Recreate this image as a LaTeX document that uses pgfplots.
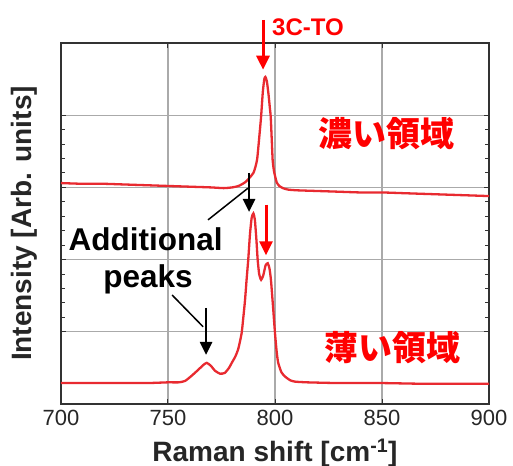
\documentclass[border=0pt]{standalone}
\usepackage{fontspec}
\setmainfont{Liberation Sans}
\newfontfamily\cjk{Noto Sans CJK JP}
\usepackage{pgfplots}
\pgfplotsset{compat=1.18}
\usetikzlibrary{arrows.meta}
\definecolor{spec}{RGB}{232,42,48}
\definecolor{frame}{RGB}{50,50,50}
\definecolor{gridc}{RGB}{170,170,170}
\begin{document}
\begin{tikzpicture}
\useasboundingbox (-61bp,-62bp) rectangle (452bp,404bp);
\begin{axis}[
  scale only axis, width=428bp, height=361bp,
  xmin=700, xmax=900, ymin=0, ymax=5,
  xtick={700,750,800,850,900}, ytick={1,2,3,4}, yticklabels={},
  minor y tick num=4,
  grid=major, major grid style={draw=gridc, line width=1.3bp},
  axis line style={draw=frame, line width=2.3bp},
  tick style={draw=frame, line width=1bp},
  tick align=inside, major tick length=5bp, minor tick length=4bp,
  /pgf/number format/assume math mode=true,
  xticklabel style={font=\fontsize{22bp}{26bp}\selectfont, text=black!85, yshift=-3bp},
  xlabel={\textbf{Raman shift [cm\textsuperscript{-1}]}},
  ylabel={\textbf{Intensity [Arb. units]}},
  xlabel style={at={([yshift=-49bp]rel axis cs:0.5,0)}, anchor=center, font=\fontsize{28bp}{32bp}\selectfont, text=black!85},
  ylabel style={at={([xshift=-37bp]rel axis cs:0,0.5)}, anchor=center, font=\fontsize{28bp}{32bp}\selectfont, text=black!85},
  clip=false,
]
\addplot[spec, line width=2.3bp, smooth, tension=0.35] coordinates {
(700,3.06) (710,3.05) (720,3.05) (730,3.04) (740,3.03) (750,3.02) (760,3.01) (770,3.00) (776,2.99) (780,3.00) (783,3.02) (786,3.07) (788,3.13) (789.9,3.20) (791,3.30) (791.7,3.40) (792.6,3.68) (793.5,3.98) (794.3,4.32) (795.0,4.50) (795.5,4.53) (796.2,4.47) (797.0,4.28) (797.6,4.10) (798.0,3.98) (798.5,3.65) (798.9,3.38) (799.3,3.27) (799.7,3.20) (800.8,3.07) (802,3.02) (803.7,2.99) (806,2.97) (810,2.96) (820,2.95) (830,2.94) (840,2.93) (850,2.93) (860,2.92) (870,2.91) (880,2.90) (890,2.89) (900,2.88)
};
\addplot[spec, line width=2.3bp, smooth, tension=0.35] coordinates {
(700,0.29) (720,0.29) (740,0.29) (750,0.30) (755,0.30) (758,0.32) (761,0.39) (764,0.47) (766.5,0.54) (768.1,0.57) (770,0.53) (772,0.46) (774.3,0.42) (776.5,0.43) (778.5,0.50) (779.8,0.57) (781.5,0.66) (782.9,0.77) (784.4,0.98) (785.2,1.20) (786,1.44) (786.8,1.75) (787.5,2.00) (788.3,2.35) (789.1,2.58) (789.9,2.64) (790.6,2.55) (791.3,2.28) (791.9,2.00) (792.6,1.80) (793.5,1.72) (794.5,1.78) (795.6,1.92) (796.6,1.95) (797.4,1.88) (798.1,1.72) (799,1.38) (800,0.98) (800.8,0.72) (801.5,0.57) (803,0.44) (804.7,0.38) (807,0.33) (809.3,0.31) (815,0.30) (830,0.29) (850,0.29) (870,0.28) (900,0.28)
};
% red arrows and label
\draw[red, line width=3bp, -{Triangle[width=13bp,length=14bp]}] (axis cs:794.4,5.32) -- (axis cs:794.4,4.63);
\node[anchor=west, inner sep=0, text=red, font=\fontsize{24bp}{28bp}\selectfont\bfseries] at (axis cs:798.6,5.22) {3C-TO};
\draw[red, line width=3bp, -{Triangle[width=13bp,length=14bp]}] (axis cs:795.8,2.76) -- (axis cs:795.8,2.06);
% black arrows
\draw[black, line width=2.6bp, -{Triangle[width=12bp,length=13bp]}] (axis cs:787.9,3.20) -- (axis cs:787.9,2.66);
\draw[black, line width=1.5bp] (axis cs:768.7,2.55) -- (axis cs:787.4,2.99);
\draw[black, line width=2.6bp, -{Triangle[width=12bp,length=13bp]}] (axis cs:767.8,1.33) -- (axis cs:767.8,0.68);
\draw[black, line width=1.5bp] (axis cs:751.9,1.51) -- (axis cs:766.4,1.07);
\node[anchor=base, inner sep=0, font=\fontsize{31.5bp}{36bp}\selectfont\bfseries] at (axis cs:739.5,2.13) {Additional};
\node[anchor=base, inner sep=0, font=\fontsize{31.5bp}{36bp}\selectfont\bfseries] at (axis cs:740.7,1.61) {peaks};
\node[text=red, inner sep=0, font=\fontsize{34bp}{38bp}\cjk\bfseries] at (axis cs:852.1,3.75) {濃い領域};
\node[text=red, inner sep=0, font=\fontsize{34bp}{38bp}\cjk\bfseries] at (axis cs:854.7,0.78) {薄い領域};
\end{axis}
\end{tikzpicture}
\end{document}
